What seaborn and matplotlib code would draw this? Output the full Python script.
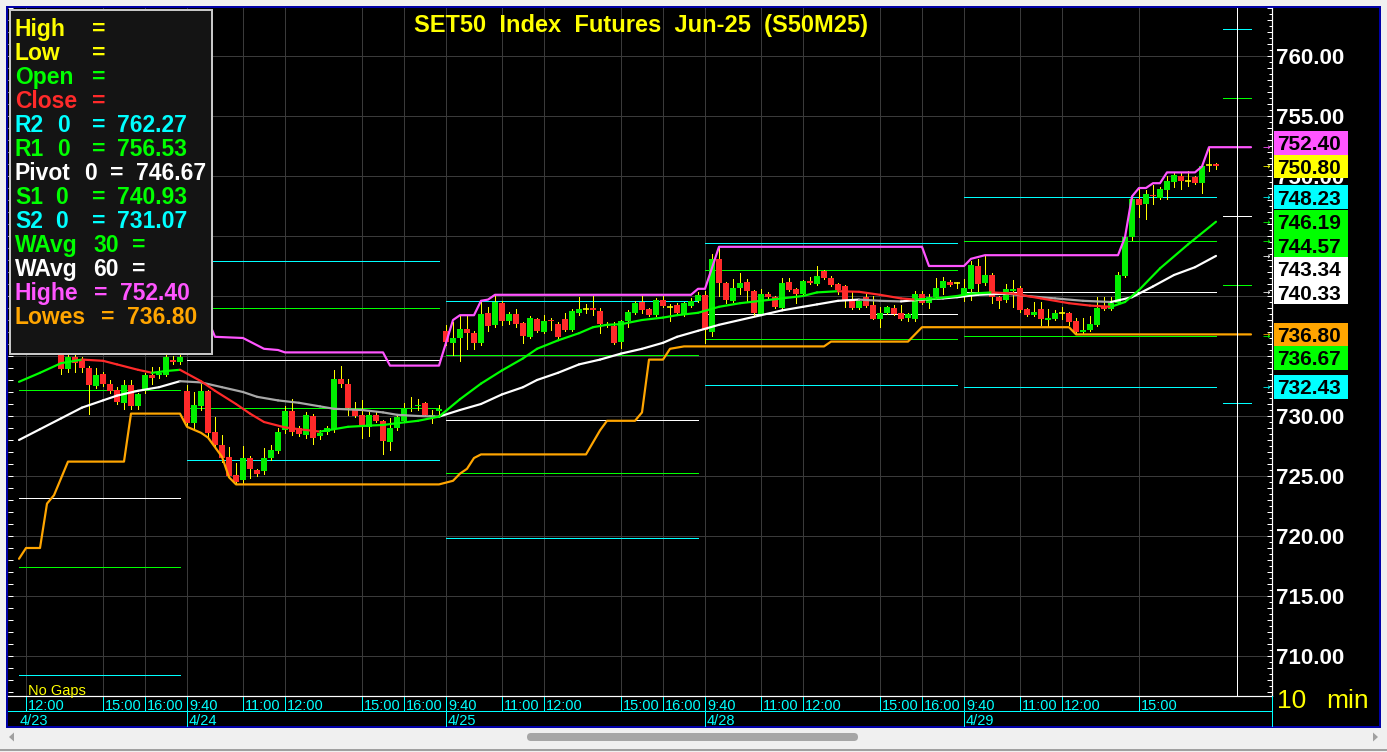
import numpy as np
import pandas as pd
import matplotlib
matplotlib.use("Agg")
import matplotlib.pyplot as plt
import matplotlib.transforms as mtransforms
from matplotlib.patches import Rectangle, FancyBboxPatch, Polygon
from matplotlib.collections import LineCollection
from matplotlib.ticker import MultipleLocator
import seaborn as sns

# ----------------------------------------------------------------- data
TITLE = "SET50  Index  Futures  Jun-25  (S50M25)"

bar_idx = list(range(19, 185))   # 10-minute bar number (0 = 4/23 9:40)

opens = [
    735.6, 733.9, 734.9, 734.7, 734.0, 732.5, 733.5, 732.7, 732.2, 731.1, 732.6, 730.8, 732.1, 733.4, 733.4, 733.4, 734.7, 734.5,
    732.1, 729.4, 730.8, 732.1, 728.7, 727.6, 726.6, 725.1, 724.7, 726.5, 725.5, 725.4, 726.5, 727.1, 728.8, 730.4, 729.0, 728.4,
    730.0, 728.3, 728.7, 728.9, 733.1, 732.7, 730.6, 730.1, 729.1, 730.1, 729.6, 727.8, 729.0, 729.6, 730.6, 730.8, 731.1, 729.9, 730.4,
    737.1, 736.05, 736.5, 737.25, 736.9, 736.1, 738.6, 737.6, 739.4, 737.9, 738.5, 737.75, 736.6, 738.1, 737.0, 738.0, 737.7, 738.1,
    737.2, 738.6, 738.9, 739.0, 738.75, 737.7, 737.5, 736.2, 737.9, 738.6, 739.5, 738.9, 738.4, 739.7, 739.1, 739.25, 738.4, 739.2, 739.6,
    740.1, 737.0, 743.1, 741.1, 739.6, 740.7, 741.2, 740.4, 738.5, 740.2, 739.9, 739.0, 741.2, 740.6, 740.2, 741.25, 741.0, 742.1,
    741.5, 741.0, 740.8, 739.7, 739.0, 739.9, 739.25, 738.1, 738.6, 739.0, 738.6, 738.2, 738.1, 740.2, 739.4, 739.9, 740.7, 741.2, 741.05,
    739.9, 740.6, 742.5, 741.1, 741.75, 739.9, 739.7, 740.4, 740.7, 738.9, 738.4, 738.9, 738.0, 738.1, 738.6, 738.6, 737.9, 737.0,
    737.2, 737.6, 739.1, 738.9, 739.4, 741.7, 744.9, 748.1, 747.7, 748.4, 748.2, 748.8, 749.5, 750.0, 749.6, 749.9, 749.4, 750.9, 751.0,
]
highs = [
    736.0, 735.2, 735.2, 734.9, 734.2, 734.0, 733.7, 733.0, 732.4, 733.0, 733.0, 731.9, 733.6, 734.1, 734.1, 735.4, 735.0, 735.2,
    732.6, 732.0, 732.7, 732.2, 729.9, 728.4, 727.4, 726.1, 727.5, 726.7, 725.6, 727.3, 727.6, 729.0, 730.8, 731.4, 729.2, 730.3,
    730.2, 728.8, 729.2, 733.8, 734.2, 733.1, 731.2, 731.3, 730.3, 730.3, 729.7, 729.8, 730.2, 731.1, 731.6, 731.4, 731.2, 730.5, 730.9,
    737.6, 737.8, 738.3, 738.3, 737.1, 739.5, 739.1, 740.0, 739.6, 738.7, 738.9, 737.8, 738.3, 738.2, 738.4, 738.2, 737.8, 738.6,
    738.9, 739.9, 739.3, 740.0, 739.0, 737.8, 737.8, 738.0, 738.8, 739.6, 740.0, 739.0, 739.8, 740.0, 739.3, 739.4, 739.5, 739.8, 740.3,
    740.4, 743.5, 744.1, 741.2, 741.4, 741.9, 741.4, 740.5, 740.6, 740.3, 740.0, 741.5, 741.5, 740.7, 741.3, 741.6, 742.5, 742.2,
    741.7, 741.1, 740.9, 740.4, 739.7, 740.2, 740.0, 739.1, 739.2, 739.25, 739.25, 738.6, 740.4, 740.4, 740.2, 741.5, 741.6, 741.3, 741.2,
    741.4, 742.9, 743.1, 743.3, 741.9, 740.0, 741.0, 741.3, 740.8, 739.0, 739.5, 739.5, 738.9, 738.8, 739.1, 738.7, 738.2, 738.2,
    738.3, 739.9, 739.9, 739.9, 742.0, 745.0, 748.3, 749.0, 748.8, 749.25, 749.1, 750.0, 750.3, 750.3, 750.4, 750.0, 750.8, 752.4, 751.05,
]
lows = [
    733.5, 733.7, 733.7, 733.7, 730.2, 732.3, 732.5, 731.9, 731.0, 730.6, 730.6, 730.6, 731.9, 732.7, 733.2, 733.3, 734.3, 734.3,
    729.2, 728.8, 730.5, 728.3, 727.3, 726.2, 724.8, 724.3, 724.4, 724.8, 725.0, 725.2, 726.3, 726.9, 728.6, 728.4, 728.3, 728.2,
    727.7, 728.1, 728.5, 728.7, 732.4, 730.1, 729.9, 728.2, 728.3, 729.5, 726.8, 727.2, 728.8, 729.5, 730.4, 730.5, 730.0, 729.4, 730.2,
    735.9, 735.1, 734.6, 735.6, 735.6, 735.9, 737.1, 737.4, 737.6, 737.7, 737.4, 736.1, 736.5, 737.0, 736.9, 737.2, 736.5, 737.1,
    737.1, 738.4, 738.6, 738.4, 736.9, 737.4, 736.0, 735.7, 737.4, 738.5, 738.6, 738.3, 738.3, 739.1, 737.9, 738.5, 738.3, 739.1, 739.5,
    736.1, 736.7, 740.0, 739.4, 739.5, 740.2, 739.6, 738.4, 738.4, 739.8, 739.0, 738.9, 740.4, 739.4, 740.1, 741.0, 740.9, 741.4,
    740.8, 740.2, 739.1, 738.9, 738.9, 739.1, 738.1, 737.4, 738.5, 738.4, 738.0, 737.9, 737.9, 739.3, 739.0, 739.8, 740.2, 740.8, 740.7,
    739.6, 739.7, 740.4, 740.9, 739.4, 739.0, 739.5, 739.1, 738.7, 738.3, 738.3, 737.6, 737.5, 738.0, 738.1, 737.6, 736.8, 736.9,
    737.1, 737.5, 738.8, 738.8, 739.3, 741.6, 744.7, 746.6, 746.4, 747.7, 748.1, 748.1, 749.1, 748.9, 749.2, 749.3, 748.6, 750.4, 750.55,
]
closes = [
    733.9, 734.9, 734.4, 734.0, 732.6, 733.4, 732.7, 732.1, 731.2, 732.6, 730.8, 731.8, 733.4, 733.2, 733.6, 734.9, 734.5, 734.9,
    729.4, 730.9, 732.1, 728.6, 727.6, 726.5, 725.0, 724.5, 726.5, 725.6, 725.2, 726.5, 727.2, 728.7, 730.4, 728.7, 728.5, 730.1,
    728.2, 728.6, 729.0, 733.1, 732.7, 730.7, 730.0, 729.2, 730.1, 729.6, 727.9, 729.0, 729.9, 730.7, 730.7, 730.9, 730.1, 730.1, 730.6,
    736.2, 736.5, 737.25, 736.9, 736.1, 738.5, 737.5, 739.5, 737.9, 738.5, 737.7, 736.7, 738.2, 737.1, 737.9, 737.9, 736.6, 737.2,
    738.75, 738.9, 738.9, 738.8, 737.7, 737.5, 736.1, 737.9, 738.7, 739.4, 738.8, 738.4, 739.7, 739.2, 739.1, 738.6, 739.4, 739.6, 740.1,
    737.2, 743.1, 741.1, 739.7, 740.7, 741.1, 740.4, 738.6, 740.2, 739.9, 739.1, 741.1, 740.5, 740.2, 741.25, 741.1, 741.7, 741.5,
    740.9, 740.5, 739.7, 739.0, 739.6, 739.2, 738.1, 738.6, 739.1, 738.5, 738.1, 738.5, 740.2, 739.4, 739.9, 740.7, 741.25, 740.9, 741.05,
    740.7, 742.6, 741.0, 741.75, 739.9, 739.6, 740.6, 740.6, 738.8, 738.4, 738.7, 738.1, 738.2, 738.6, 738.6, 737.8, 737.0, 737.2,
    737.7, 739.0, 738.9, 739.4, 741.75, 744.9, 748.1, 747.6, 748.5, 748.3, 748.9, 749.6, 750.1, 749.6, 749.6, 749.4, 750.8, 750.9, 750.8,
]

wavg30_bar = [13, 16, 19, 22, 25, 27, 30, 32, 34, 36, 39, 41, 44, 46, 48, 51, 53, 56, 58, 60, 63, 65, 67, 70, 73,
              76, 79, 82, 85, 87, 90, 93, 95, 97, 99, 102, 105, 107, 110, 113, 116, 119, 122, 125, 127, 130,
              133, 136, 139, 141, 144, 147, 149, 152, 155, 159, 163, 166, 169, 171, 173, 176, 180, 184]
wavg30_val = [732.85, 733.6, 734.4, 734.7, 734.6, 734.3, 733.85, 733.6, 733.75, 733.85, 732.9, 732.1, 731.0, 730.2,
              729.5, 729.05, 728.9, 728.7, 728.9, 729.1, 729.2, 729.25, 729.4, 729.6, 729.95,
              731.4, 732.7, 733.8, 734.8, 735.6, 736.3, 736.9, 737.4, 737.6, 737.65, 738.0, 738.2, 738.4, 738.6,
              739.1, 739.4, 739.6, 739.8, 740.0, 740.3, 740.4, 740.35, 740.1, 739.8, 739.7, 739.8, 740.0, 740.2,
              740.3, 740.2, 739.8, 739.4, 739.2, 739.1, 739.5, 740.5, 742.3, 744.3, 746.19]
wavg60_bar = [13, 16, 19, 22, 25, 27, 30, 33, 36, 39, 42, 45, 47, 50, 53, 56, 58, 62, 65, 67, 70, 73,
              76, 79, 82, 85, 87, 90, 93, 96, 99, 102, 105, 107, 110, 113, 116, 119, 122, 125, 127, 130,
              133, 136, 139, 142, 145, 147, 150, 154, 157, 161, 165, 169, 172, 175, 178, 181, 184]
wavg60_val = [728.0, 728.9, 729.8, 730.7, 731.3, 731.7, 732.1, 732.4, 732.9, 732.8, 732.4, 732.0, 731.6, 731.3,
              731.1, 730.8, 730.6, 730.5, 730.3, 730.1, 730.0, 729.95,
              730.5, 731.0, 731.8, 732.4, 733.0, 733.6, 734.3, 734.7, 735.2, 735.6, 736.1, 736.6, 737.1, 737.6,
              738.0, 738.4, 738.8, 739.1, 739.3, 739.6, 739.7, 739.6, 739.55, 739.7, 739.8, 739.9, 740.1, 740.2,
              740.0, 739.8, 739.6, 739.5, 739.9, 740.8, 741.75, 742.4, 743.34]
highest_bar = [39, 40, 41, 45, 48, 50, 51, 65, 66, 73, 75, 76, 78, 79, 80, 81, 109, 110, 111, 113, 142, 143,
               148, 149, 151, 170, 171, 172, 173, 174, 175, 176, 177, 181, 182, 183, 189]
highest_val = [739.5, 738.0, 736.6, 736.5, 735.6, 735.5, 735.3, 735.3, 734.2, 734.2, 738.0, 738.4, 738.4, 739.6,
               739.7, 740.1, 740.1, 740.6, 740.6, 744.1, 744.1, 742.5, 742.5, 743.1, 743.4, 743.4, 744.9, 748.3,
               749.0, 749.0, 749.4, 749.4, 750.3, 750.3, 750.8, 752.4, 752.4]
lowest_bar = [13, 14, 16, 17, 18, 20, 28, 29, 36, 37, 39, 40, 42, 43, 44, 73, 75, 76, 77, 78, 79, 94, 96, 97,
              101, 102, 103, 105, 106, 108, 128, 129, 140, 142, 163, 164, 189]
lowest_val = [718.1, 719.0, 719.0, 722.7, 723.4, 726.2, 726.2, 730.2, 730.2, 729.1, 728.6, 728.2, 726.6, 724.9,
              724.3, 724.3, 724.6, 725.2, 725.6, 726.5, 726.8, 726.8, 728.8, 729.6, 729.6, 730.3, 734.7, 734.7,
              735.6, 735.8, 735.8, 736.2, 736.2, 737.4, 737.4, 736.8, 736.8]

# daily floor-pivot levels (4/23, 4/24, 4/25, 4/28, 4/29, 4/30)
day_first_bar = [13, 37, 74, 111, 148, 185]
day_last_bar = [36, 73, 110, 147, 184, 189]
pivot_r2 = [738.0, 742.9, 739.6, 744.4, 748.23, 762.27]
pivot_r1 = [732.2, 739.0, 735.1, 742.2, 744.57, 756.53]
pivot_p = [723.2, 734.7, 729.7, 738.5, 740.33, 746.67]
pivot_s1 = [717.4, 730.7, 725.25, 736.4, 736.67, 740.93]
pivot_s2 = [708.4, 726.3, 719.8, 732.6, 732.43, 731.07]

time_tick_bar = [14, 25, 31, 37, 45, 51, 62, 68, 74, 82, 88, 99, 105, 111, 119, 125, 136, 142, 148, 156, 162, 173]
time_tick_label = ["12:00", "15:00", "16:00", "9:40", "11:00", "12:00", "15:00", "16:00", "9:40", "11:00", "12:00",
                   "15:00", "16:00", "9:40", "11:00", "12:00", "15:00", "16:00", "9:40", "11:00", "12:00", "15:00"]
date_tick_bar = [37, 74, 111, 148]
date_tick_label = ["4/24", "4/25", "4/28", "4/29"]
first_date_label = "4/23"
cursor_bar = 187
last_close = 750.80
price_ticks = [710, 715, 720, 725, 730, 735, 740, 745, 750, 755, 760]

# ----------------------------------------------------------------- style
sns.set_theme(style="dark")
plt.rcParams['font.family'] = ['Liberation Sans', 'DejaVu Sans']

YEL, GRN, RED, CYN = '#FFFF00', '#00FF00', '#FF2A2A', '#00FFFF'
MAG, ORG, WHT, GRY = '#FF55FF', '#FFA500', '#FFFFFF', '#A8A8A8'
CGRN, CRED = '#00EE00', '#FF2A2A'
GRID = '#3A3A3A'
PX = 0.72  # one pixel in points at 100 dpi

W, H = 1387, 752
fig = plt.figure(figsize=(W / 100, H / 100), dpi=100)
fig.patch.set_facecolor('#F0F0F0')

# window chrome
bg = fig.add_axes([0, 0, 1, 1], zorder=0)
bg.set_xlim(0, W); bg.set_ylim(H, 0); bg.axis('off')
bg.add_patch(Rectangle((0, 0), W, H, fc='#F0F0F0', ec='none'))
bg.add_patch(Rectangle((7, 7), 1373, 720, fc='black', ec='#0000A8', lw=2 * PX))
bg.add_patch(FancyBboxPatch((527, 733), 331, 8, boxstyle='round,pad=0,rounding_size=4', fc='#A6A6A6', ec='none'))
bg.add_patch(Polygon([(9, 737), (14, 732.5), (14, 741.5)], closed=True, fc='#A0A0A0', ec='none'))
bg.add_patch(Polygon([(1378, 737), (1373, 732.5), (1373, 741.5)], closed=True, fc='#A0A0A0', ec='none'))
bg.plot([0, W], [750, 750], color='#A0A0A0', lw=2 * PX)

# main price axes
L, R, T, B = 8, 1272, 8, 696
ax = fig.add_axes([L / W, 1 - B / H, (R - L) / W, (B - T) / H], zorder=1)
ax.set_facecolor('black')
XMIN, XMAX = (L + 72) / 7, (R + 72) / 7
YMIN, YMAX = 706.667, 764.0

# grid
ax.vlines(time_tick_bar, YMIN, YMAX, color=GRID, lw=PX, zorder=0.5, antialiased=False)
ax.hlines(price_ticks, XMIN, XMAX, color=GRID, lw=PX, zorder=0.5, antialiased=False)

# pivot levels
for vals, col in [(pivot_r2, CYN), (pivot_r1, GRN), (pivot_p, WHT), (pivot_s1, GRN), (pivot_s2, CYN)]:
    ax.hlines(vals, day_first_bar, day_last_bar, color=col, lw=PX, zorder=2, antialiased=False)

# candles
df = pd.DataFrame(dict(bar=bar_idx, o=opens, h=highs, l=lows, c=closes))
ax.vlines(df.bar, df.l, df.h, color=YEL, lw=PX, zorder=3, antialiased=False)
up = df[df.c > df.o]
dn = df[df.c < df.o]
dj = df[df.c == df.o]
ax.bar(up.bar, up.c - up.o, bottom=up.o, width=0.72, color=CGRN, lw=0, zorder=4, antialiased=False)
ax.bar(dn.bar, dn.c - dn.o, bottom=dn.o, width=0.72, color=CRED, lw=0, zorder=4, antialiased=False)
ax.hlines(dj.o, dj.bar - 0.4, dj.bar + 0.4, color=YEL, lw=PX * 1.6, zorder=4)


def slope_line(bars, vals, up_col, dn_col, z):
    pts = np.column_stack([bars, vals])
    segs = np.stack([pts[:-1], pts[1:]], axis=1)
    cols = [up_col if b[1] > a[1] else dn_col for a, b in zip(pts[:-1], pts[1:])]
    ax.add_collection(LineCollection(segs, colors=cols, linewidths=2.2 * PX, capstyle='round', zorder=z))


slope_line(wavg60_bar, wavg60_val, WHT, GRY, 5)
slope_line(wavg30_bar, wavg30_val, GRN, RED, 5.5)

sns.lineplot(x=lowest_bar, y=lowest_val, ax=ax, color=ORG, lw=2.2 * PX, estimator=None, sort=False, zorder=6)
sns.lineplot(x=highest_bar, y=highest_val, ax=ax, color=MAG, lw=2.2 * PX, estimator=None, sort=False, zorder=6)

ax.axvline(cursor_bar, color=WHT, lw=PX, zorder=7, antialiased=False)

ax.set_xlim(XMIN, XMAX)
ax.set_ylim(YMIN, YMAX)
ax.set_xlabel(''); ax.set_ylabel('')
ax.grid(False)
ax.yaxis.set_major_locator(MultipleLocator(1))
ax.yaxis.set_minor_locator(MultipleLocator(0.5))
ax.tick_params(axis='y', which='major', direction='in', left=True, right=True, length=3.6, width=PX,
               color=WHT, labelleft=False, labelright=False)
ax.tick_params(axis='y', which='minor', direction='in', left=False, right=True, length=2.2, width=PX, color=WHT)
ax.tick_params(axis='x', which='both', bottom=False, top=False, labelbottom=False)
for s in ['top', 'left']:
    ax.spines[s].set_visible(False)
for s in ['right', 'bottom']:
    ax.spines[s].set_visible(True)
    ax.spines[s].set_color(WHT)
    ax.spines[s].set_linewidth(1.2 * PX)

# overlay for text and decorations
fx = fig.add_axes([0, 0, 1, 1], zorder=3)
fx.set_xlim(0, W); fx.set_ylim(H, 0); fx.axis('off')
fx.set_autoscale_on(False)
bt = mtransforms.blended_transform_factory(fx.transData, ax.transData)   # x pixels, y price
bt2 = mtransforms.blended_transform_factory(ax.transData, fx.transData)  # x bar, y pixels
bt2_txt = mtransforms.offset_copy(bt2, fig=fig, x=2, y=0, units='dots')

# time axis rows
fx.plot([L, R], [711, 711], color=CYN, lw=PX, antialiased=False)
fx.plot([R, R], [696, 726], color=CYN, lw=PX, antialiased=False)
for b, lab in zip(time_tick_bar, time_tick_label):
    fx.plot([b, b], [697, 711], color=CYN, lw=PX, transform=bt2, antialiased=False)
    fx.text(b, 704.5, lab, transform=bt2_txt, color=CYN, fontsize=10.5, ha='left', va='center_baseline')
for b, lab in zip(date_tick_bar, date_tick_label):
    fx.plot([b, b], [711, 726], color=CYN, lw=PX, transform=bt2, antialiased=False)
    fx.text(b, 719.5, lab, transform=bt2_txt, color=CYN, fontsize=10.5, ha='left', va='center_baseline')
fx.text(20, 719.5, first_date_label, color=CYN, fontsize=10.5, ha='left', va='center_baseline')

# title & misc text
fx.text(641, 23, TITLE, ha='center', va='center_baseline', color=YEL, fontsize=17, fontweight='bold')
fx.text(28, 689, "No Gaps", ha='left', va='center_baseline', color=YEL, fontsize=10.5)
fx.text(1277, 698, "10", ha='left', va='center_baseline', color=YEL, fontsize=19)
fx.text(1326, 698, "min", ha='left', va='center_baseline', color=YEL, fontsize=19)

# value boxes on the right price scale (stacked so they never overlap)
lab_vals = [highest_val[-1], last_close, pivot_r2[4], wavg30_val[-1], pivot_r1[4], wavg60_val[-1],
            pivot_p[4], lowest_val[-1], pivot_s1[4], pivot_s2[4]]
lab_cols = [MAG, YEL, CYN, GRN, GRN, WHT, WHT, ORG, GRN, CYN]
BH = 23.5 / 12.0
pos = list(lab_vals)
anchor = 1
for i in range(anchor + 1, len(pos)):
    pos[i] = min(lab_vals[i], pos[i - 1] - BH)
for i in range(anchor - 1, -1, -1):
    pos[i] = max(lab_vals[i], pos[i + 1] + BH)
for v, p, c in zip(lab_vals, pos, lab_cols):
    fx.add_patch(Rectangle((1274, p - BH / 2), 74, BH, transform=bt, fc=c, ec='none', zorder=2))
    fx.text(1277, p, f"{v:.2f}", transform=bt, color='black', fontsize=15, fontweight='bold',
            ha='left', va='center_baseline', zorder=3)
    fx.text(1266, v, "→", transform=bt, color=c, fontsize=6.5, ha='center', va='center',
            family='DejaVu Sans', zorder=3)


def covered(v, half=0.67):
    # is [v-half, v+half] fully covered by the union of value boxes?
    ivs = sorted((p - BH / 2, p + BH / 2) for p in pos)
    lo = v - half
    for a, b in ivs:
        if a <= lo < b:
            lo = b
        if lo >= v + half:
            return True
    return lo >= v + half


# right price scale labels (those entirely hidden behind value boxes are skipped)
for v in price_ticks:
    if covered(v):
        continue
    fx.text(1276, v, f"{v:.2f}", transform=bt, color=WHT, fontsize=16, fontweight='bold',
            ha='left', va='center_baseline', zorder=1)

# legend box
fx.add_patch(Rectangle((9.5, 9.5), 202.5, 344.5, fc='#141414', ec='#C8C8C8', lw=2 * PX, zorder=5))
legend_rows = [
    (YEL, [("High", 15), ("=", 92)]),
    (YEL, [("Low", 15), ("=", 92)]),
    (GRN, [("Open", 15), ("=", 92)]),
    (RED, [("Close", 15), ("=", 92)]),
    (CYN, [("R2", 15), ("0", 57), ("=", 92), (f"{pivot_r2[5]:.2f}", 117)]),
    (GRN, [("R1", 15), ("0", 57), ("=", 92), (f"{pivot_r1[5]:.2f}", 117)]),
    (WHT, [("Pivot", 15), ("0", 84), ("=", 110), (f"{pivot_p[5]:.2f}", 136)]),
    (GRN, [("S1", 15), ("0", 55), ("=", 92), (f"{pivot_s1[5]:.2f}", 117)]),
    (CYN, [("S2", 15), ("0", 55), ("=", 92), (f"{pivot_s2[5]:.2f}", 117)]),
    (GRN, [("WAvg", 15), ("30", 93), ("=", 132)]),
    (WHT, [("WAvg", 15), ("60", 93), ("=", 132)]),
    (MAG, [("Highe", 15), ("=", 94), (f"{highest_val[-1]:.2f}", 120)]),
    (ORG, [("Lowes", 15), ("=", 101), (f"{lowest_val[-1]:.2f}", 127)]),
]
for i, (col, parts) in enumerate(legend_rows):
    y = 27 + 24 * i
    for s, x in parts:
        fx.text(x, y, s, color=col, fontsize=16.5, fontweight='bold', ha='left', va='center_baseline', zorder=6)

fig.savefig("out.png", dpi=100, facecolor=fig.get_facecolor())
